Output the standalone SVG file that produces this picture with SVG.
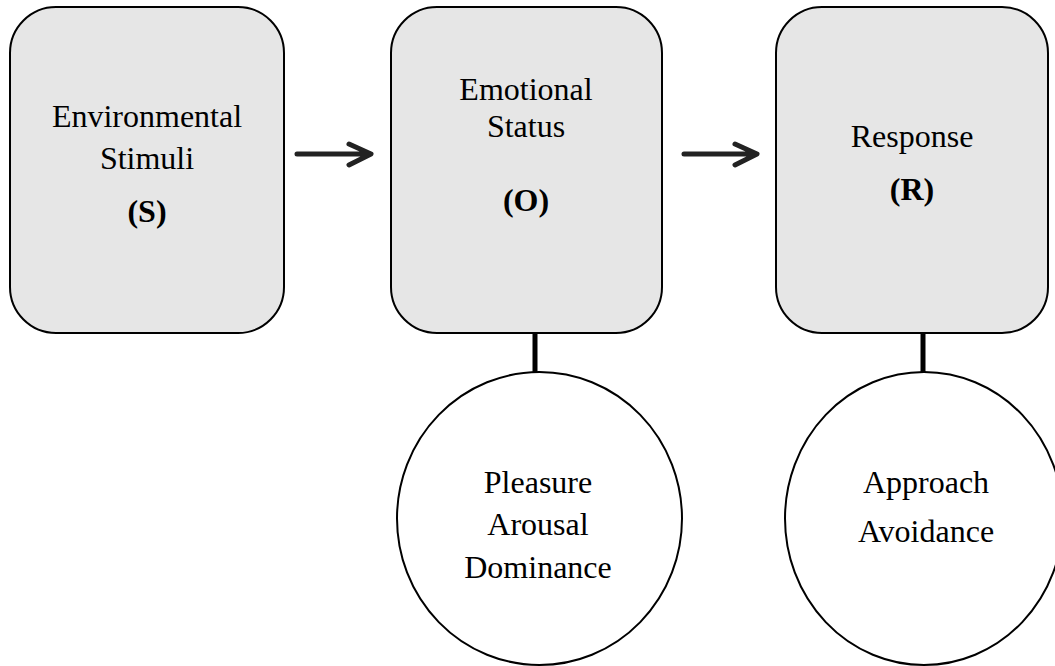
<svg xmlns="http://www.w3.org/2000/svg" width="1055" height="666" viewBox="0 0 1055 666">
<style>
.box{fill:#e6e6e6;stroke:#000;stroke-width:2}
.circ{fill:#fff;stroke:#000;stroke-width:2}
.t{font-family:"Liberation Serif","Times New Roman",serif;font-size:32px;fill:#000;text-anchor:middle}
.b{font-weight:bold}
.arr{fill:none;stroke:#222;stroke-width:5;stroke-linecap:round;stroke-linejoin:round}
.link{stroke:#000;stroke-width:5}
</style>
<rect width="1055" height="666" fill="#fff"/>
<g id="connectors">
<path class="arr" d="M297 154 H370 M349 144 L371 154 L349 165"/>
<path class="arr" d="M684 154 H756 M735 144 L757 154 L735 165"/>
<line class="link" x1="535" y1="333" x2="535" y2="373"/>
<line class="link" x1="923" y1="333" x2="923" y2="373"/>
</g>
<g id="node-s">
<rect class="box" x="10" y="7" width="274" height="326" rx="46" ry="46"/>
<text class="t" x="147" y="127">Environmental</text>
<text class="t" x="147" y="169">Stimuli</text>
<text class="t b" x="147" y="222">(S)</text>
</g>
<g id="node-o">
<rect class="box" x="391" y="7" width="271" height="326" rx="46" ry="46"/>
<text class="t" x="526" y="100">Emotional</text>
<text class="t" x="526" y="137">Status</text>
<text class="t b" x="526" y="211">(O)</text>
</g>
<g id="node-r">
<rect class="box" x="776" y="7" width="272" height="326" rx="46" ry="46"/>
<text class="t" x="912" y="147">Response</text>
<text class="t b" x="912" y="200">(R)</text>
</g>
<g id="node-pad">
<ellipse class="circ" cx="539.5" cy="518.5" rx="142.5" ry="146.5"/>
<text class="t" x="538" y="493">Pleasure</text>
<text class="t" x="538" y="535">Arousal</text>
<text class="t" x="538" y="578">Dominance</text>
</g>
<g id="node-aa">
<ellipse class="circ" cx="924" cy="518.5" rx="139" ry="146.5"/>
<text class="t" x="926" y="493">Approach</text>
<text class="t" x="926" y="542">Avoidance</text>
</g>
</svg>
